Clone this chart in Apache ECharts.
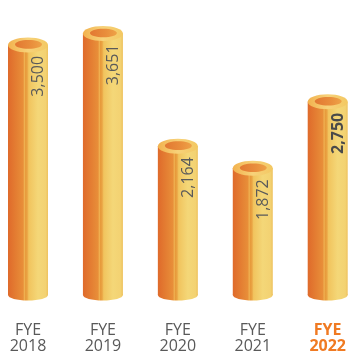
<!DOCTYPE html>
<html>
<head>
<meta charset="utf-8">
<script src="https://cdn.jsdelivr.net/npm/echarts@6/dist/echarts.min.js"></script>
<style>
  html, body { margin: 0; padding: 0; background: #fff; }
  #chart { width: 349px; height: 354px; }
</style>
</head>
<body>
<div id="chart"></div>
<script>
// Financial-year labels and values
const years = ['2018', '2019', '2020', '2021', '2022'];
const tickLabels = ['FYE\n2018', 'FYE\n2019', 'FYE\n2020', 'FYE\n2021', 'FYE\n2022'];
const values = [3500, 3651, 2164, 1872, 2750];
const highlightIndex = 4;

const Y_MIN = 200;
const Y_MAX = 4000;
const HALF_W = 20;   // cylinder radius in px
const RY = 7.5;      // ellipse vertical radius

const bodyStops = [
  { offset: 0.00, color: '#DF6A2B' },
  { offset: 0.38, color: '#E88F39' },
  { offset: 0.41, color: '#F0B252' },
  { offset: 0.44, color: '#E79A3B' },
  { offset: 0.48, color: '#EAA444' },
  { offset: 0.52, color: '#F1C45E' },
  { offset: 0.75, color: '#F4D778' },
  { offset: 0.94, color: '#F3D272' },
  { offset: 1.00, color: '#EEC25E' }
];

function grad(stops) {
  return new echarts.graphic.LinearGradient(0, 0, 1, 0, stops);
}

function renderCylinder(params, api) {
  const idx = api.value(0);
  const val = api.value(1);
  const top = api.coord([idx, val]);
  const base = api.coord([idx, Y_MIN]);
  const cx = top[0];
  const bold = idx === highlightIndex;
  return {
    type: 'group',
    children: [
      {
        type: 'ellipse',
        shape: { cx: cx, cy: base[1], rx: HALF_W, ry: RY - 2 },
        style: { fill: grad(bodyStops) }
      },
      {
        type: 'rect',
        shape: { x: cx - HALF_W, y: top[1], width: HALF_W * 2, height: base[1] - top[1] },
        style: { fill: grad(bodyStops) }
      },
      {
        type: 'ellipse',
        shape: { cx: cx, cy: top[1], rx: HALF_W, ry: RY },
        style: {
          fill: grad([
            { offset: 0, color: '#F2B24E' },
            { offset: 0.5, color: '#F7D27A' },
            { offset: 1, color: '#F3C862' }
          ])
        }
      },
      {
        type: 'ellipse',
        shape: { cx: cx + 0.5, cy: top[1] - 0.5, rx: 13.5, ry: 4.3 },
        style: {
          fill: grad([
            { offset: 0, color: '#E27832' },
            { offset: 0.6, color: '#E98E3C' },
            { offset: 1, color: '#EEA247' }
          ])
        }
      },
      {
        type: 'text',
        x: cx + 10.5,
        y: top[1] + 11,
        rotation: Math.PI / 2,
        style: {
          text: values[idx].toLocaleString('en-US'),
          fill: bold ? '#4A4A4A' : '#5A5A5A',
          font: (bold ? 'bold ' : '') + '16px "Open Sans"',
          align: 'right',
          verticalAlign: 'middle'
        }
      }
    ]
  };
}

const chart = echarts.init(document.getElementById('chart'), null, { renderer: 'canvas' });
chart.setOption({
  animation: false,
  backgroundColor: '#ffffff',
  grid: { left: 28, right: 20, top: 7, bottom: 57.6 },
  xAxis: {
    type: 'category',
    data: tickLabels,
    boundaryGap: false,
    axisLine: { show: false },
    axisTick: { show: false },
    splitLine: { show: false },
    axisLabel: {
      margin: 27,
      interval: 0,
      formatter: function (v, i) {
        const parts = v.split('\n');
        const k = i === highlightIndex ? 'h' : 'n';
        return '{' + k + '|' + parts[0] + '}\n{' + k + '|' + parts[1] + '}';
      },
      rich: {
        n: { fontFamily: 'Open Sans', fontSize: 16, lineHeight: 16, color: '#595959' },
        h: { fontFamily: 'Open Sans', fontSize: 16, lineHeight: 16, color: '#F07A22', fontWeight: 'bold' }
      }
    }
  },
  yAxis: {
    type: 'value',
    min: Y_MIN,
    max: Y_MAX,
    show: false
  },
  series: [{
    type: 'custom',
    renderItem: renderCylinder,
    clip: false,
    data: values.map(function (v, i) { return [i, v]; })
  }]
});
</script>
</body>
</html>
